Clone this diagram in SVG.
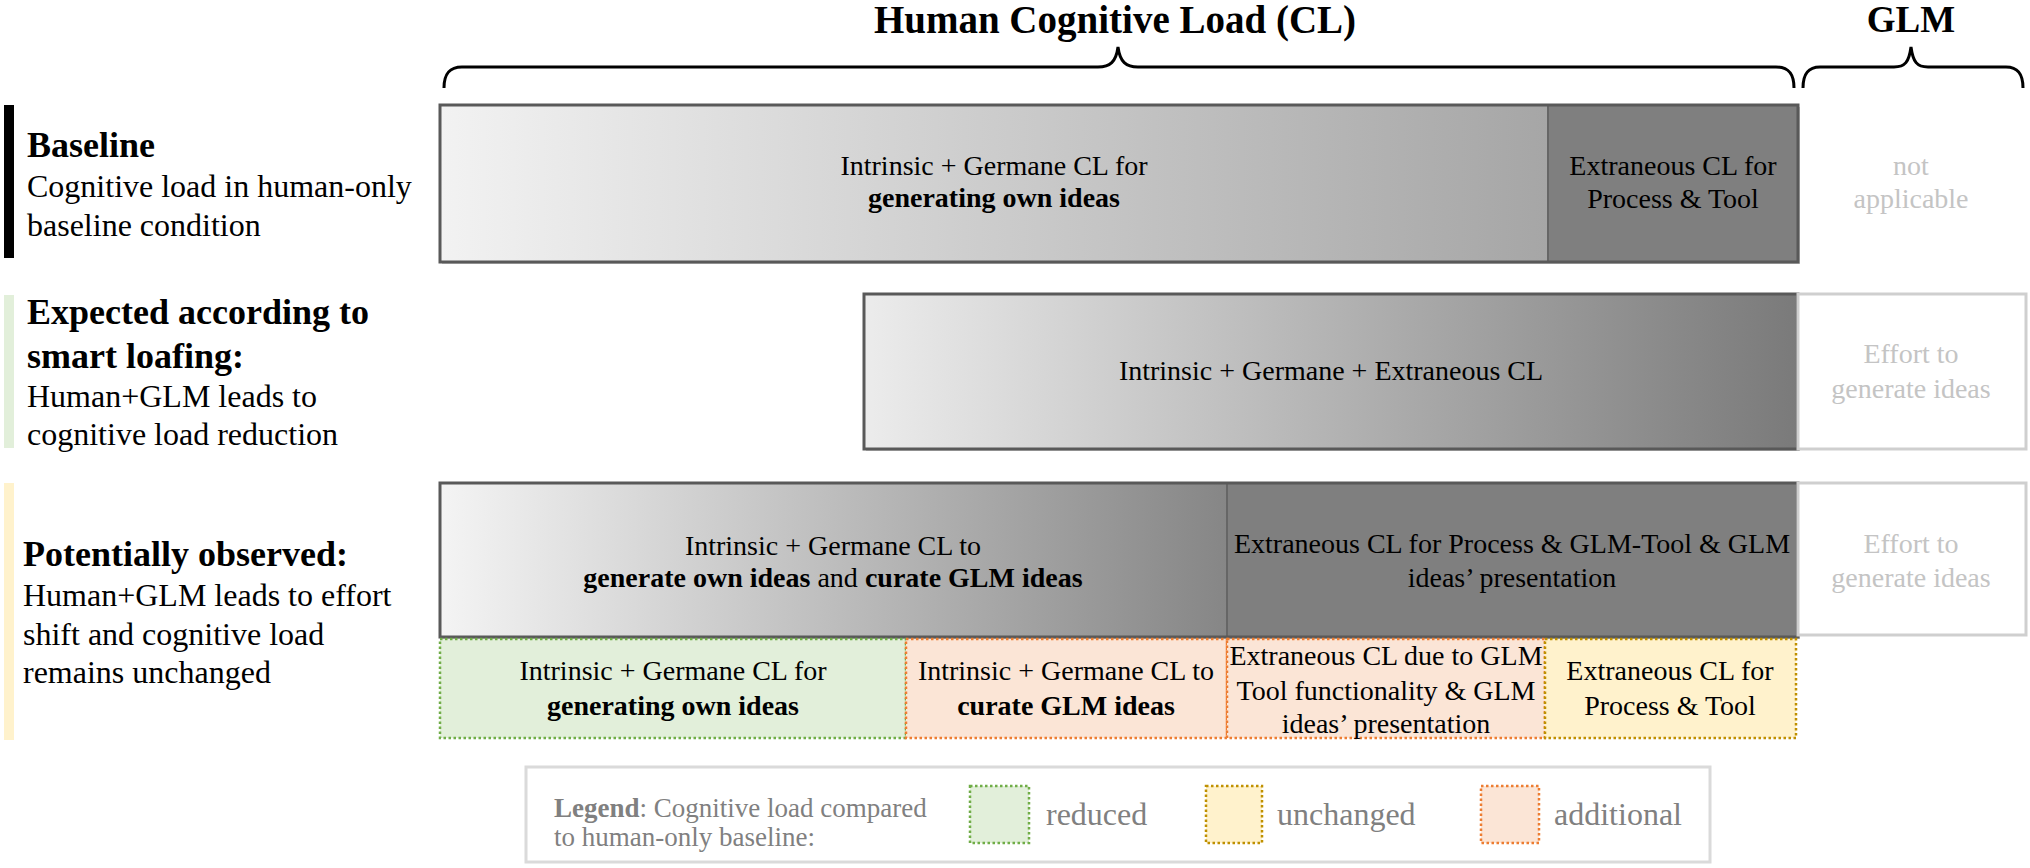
<svg xmlns="http://www.w3.org/2000/svg" width="2030" height="868" viewBox="0 0 2030 868" font-family="'Liberation Serif', 'Times New Roman', 'DejaVu Serif', serif">
<defs>
<linearGradient id="g1" x1="0" x2="1" y1="0" y2="0"><stop offset="0" stop-color="#f2f2f2"/><stop offset="1" stop-color="#a6a6a6"/></linearGradient>
<linearGradient id="g2" x1="0" x2="1" y1="0" y2="0"><stop offset="0" stop-color="#ececec"/><stop offset="1" stop-color="#7a7a7a"/></linearGradient>
<linearGradient id="g3" x1="0" x2="1" y1="0" y2="0"><stop offset="0" stop-color="#f4f4f4"/><stop offset="1" stop-color="#868686"/></linearGradient>
</defs>
<style>
text{font-family:'Liberation Serif','Times New Roman','DejaVu Serif',serif;fill:#000}
.c{text-anchor:middle}
.s28{font-size:28px}
.s32{font-size:32px}
.hd{font-size:36px;font-weight:bold}
.b{font-weight:bold}
.ghost{fill:#c4c4c4}
.frame{stroke:#595959;stroke-width:3}
.shadow{fill:#c8c8c8}
.dark{fill:#7f7f7f}
.div{stroke:#666;stroke-width:2}
.glmbox{fill:#fff;stroke:#cfcfcf;stroke-width:3}
.brace{fill:none;stroke:#000;stroke-width:3}
.dot{stroke-width:2.5;stroke-dasharray:2.5 2.5}
.red{fill:#e2efda;stroke:#70ad47}
.unch{fill:#fff2cc;stroke:#bf9000}
.add{fill:#fbe5d6;stroke:#ed7d31}
.leg{fill:#808080}
</style>

<g id="titles">
<text x="1115" y="33" class="c b" font-size="39">Human Cognitive Load (CL)</text>
<text x="1911" y="32" class="c b" font-size="37">GLM</text>
</g>

<g id="braces">
<path class="brace" d="M444,88 C444,74 449,67 462,67 L1098,67 C1110,67 1116,62 1118,47 C1120,62 1126,67 1138,67 L1776,67 C1789,67 1794,74 1794,88"/>
<path class="brace" d="M1803,88 C1803,74 1808,67 1820,67 L1894,67 C1905,67 1909,62 1911,47 C1913,62 1917,67 1928,67 L2006,67 C2018,67 2023,74 2023,88"/>
</g>

<g id="label-baseline">
<rect x="4" y="105" width="10" height="153" fill="#000"/>
<text x="27" y="157" class="hd">Baseline</text>
<text x="27" y="197" class="s32">Cognitive load in human-only</text>
<text x="27" y="236" class="s32">baseline condition</text>
</g>

<g id="label-expected">
<rect x="4" y="295" width="10" height="153" fill="#e2efda"/>
<text x="27" y="324" class="hd">Expected according to</text>
<text x="27" y="368" class="hd">smart loafing:</text>
<text x="27" y="407" class="s32">Human+GLM leads to</text>
<text x="27" y="445" class="s32">cognitive load reduction</text>
</g>

<g id="label-observed">
<rect x="4" y="483" width="10" height="257" fill="#fff2cc"/>
<text x="23" y="566" class="hd">Potentially observed:</text>
<text x="23" y="606" class="s32">Human+GLM leads to effort</text>
<text x="23" y="645" class="s32">shift and cognitive load</text>
<text x="23" y="683" class="s32">remains unchanged</text>
</g>

<g id="row1-human">
<rect x="442" y="107" width="1358" height="157" class="shadow"/>
<rect x="440" y="105" width="1108" height="157" fill="url(#g1)"/>
<rect x="1548" y="105" width="250" height="157" class="dark"/>
<line x1="1548" y1="105" x2="1548" y2="262" class="div"/>
<rect x="440" y="105" width="1358" height="157" fill="none" class="frame"/>
<text x="994" y="175" class="c s28">Intrinsic + Germane CL for</text>
<text x="994" y="207" class="c s28 b">generating own ideas</text>
<text x="1673" y="175" class="c s28">Extraneous CL for</text>
<text x="1673" y="208" class="c s28">Process &amp; Tool</text>
</g>

<g id="row1-glm">
<text x="1911" y="175" class="c s28 ghost">not</text>
<text x="1911" y="208" class="c s28 ghost">applicable</text>
</g>

<g id="row2-human">
<rect x="866" y="296" width="934" height="155" class="shadow"/>
<rect x="864" y="294" width="934" height="155" fill="url(#g2)" class="frame"/>
<text x="1331" y="380" class="c s28">Intrinsic + Germane + Extraneous CL</text>
</g>

<g id="row2-glm">
<rect x="1798" y="294" width="228" height="155" class="glmbox"/>
<text x="1911" y="363" class="c s28 ghost">Effort to</text>
<text x="1911" y="398" class="c s28 ghost">generate ideas</text>
</g>

<g id="row3-human">
<rect x="442" y="485" width="1358" height="154" class="shadow"/>
<rect x="440" y="483" width="787" height="154" fill="url(#g3)"/>
<rect x="1227" y="483" width="571" height="154" class="dark"/>
<line x1="1227" y1="483" x2="1227" y2="637" class="div"/>
<rect x="440" y="483" width="1358" height="154" fill="none" class="frame"/>
<text x="833" y="555" class="c s28">Intrinsic + Germane CL to</text>
<text x="833" y="587" class="c s28"><tspan class="b">generate own ideas</tspan> and <tspan class="b">curate GLM ideas</tspan></text>
<text x="1512" y="553" class="c s28">Extraneous CL for Process &amp; GLM-Tool &amp; GLM</text>
<text x="1512" y="587" class="c s28">ideas’ presentation</text>
</g>

<g id="row3-glm">
<rect x="1798" y="483" width="228" height="152" class="glmbox"/>
<text x="1911" y="553" class="c s28 ghost">Effort to</text>
<text x="1911" y="587" class="c s28 ghost">generate ideas</text>
</g>

<g id="cell-reduced">
<rect x="440" y="639" width="466" height="99" class="red dot"/>
<text x="673" y="680" class="c s28">Intrinsic + Germane CL for</text>
<text x="673" y="715" class="c s28 b">generating own ideas</text>
</g>

<g id="cell-curate">
<rect x="906" y="639" width="321" height="99" class="add dot"/>
<text x="1066" y="680" class="c s28">Intrinsic + Germane CL to</text>
<text x="1066" y="715" class="c s28 b">curate GLM ideas</text>
</g>

<g id="cell-glm-extraneous">
<rect x="1227" y="639" width="318" height="99" class="add dot"/>
<text x="1386" y="665" class="c s28">Extraneous CL due to GLM</text>
<text x="1386" y="700" class="c s28">Tool functionality &amp; GLM</text>
<text x="1386" y="733" class="c s28">ideas’ presentation</text>
</g>

<g id="cell-unchanged">
<rect x="1545" y="639" width="251" height="99" class="unch dot"/>
<text x="1670" y="680" class="c s28">Extraneous CL for</text>
<text x="1670" y="715" class="c s28">Process &amp; Tool</text>
</g>

<g id="legend">
<rect x="526" y="767" width="1184" height="95" fill="#fff" stroke="#dadada" stroke-width="3"/>
<text x="554" y="817" class="leg" font-size="27"><tspan font-weight="bold">Legend</tspan>: Cognitive load compared</text>
<text x="554" y="846" class="leg" font-size="27">to human-only baseline:</text>
<rect x="970" y="786" width="59" height="57" class="red dot"/>
<text x="1046" y="825" class="leg s32">reduced</text>
<rect x="1206" y="786" width="56" height="57" class="unch dot"/>
<text x="1277" y="825" class="leg s32">unchanged</text>
<rect x="1481" y="786" width="58" height="57" class="add dot"/>
<text x="1554" y="825" class="leg s32">additional</text>
</g>
</svg>
